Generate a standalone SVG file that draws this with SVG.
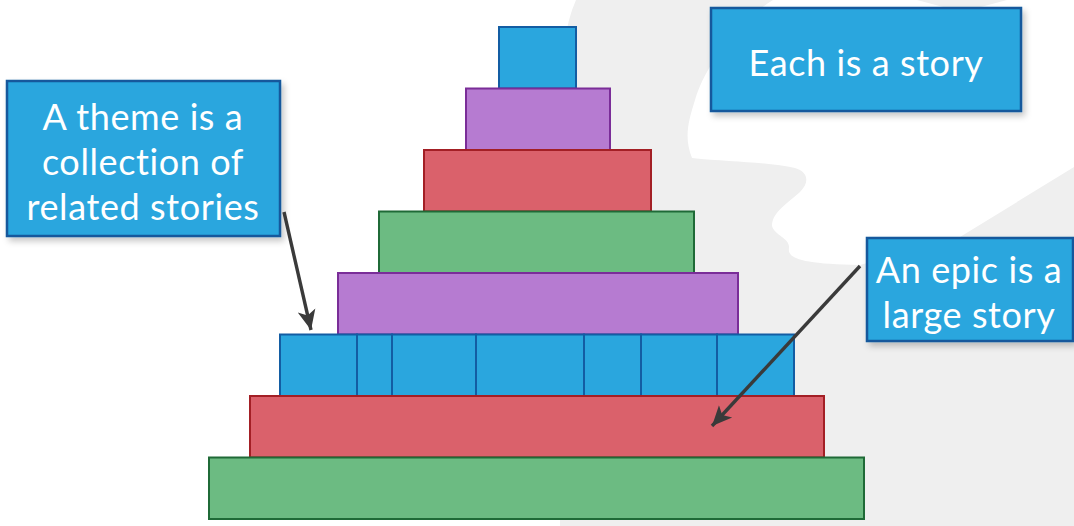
<svg xmlns="http://www.w3.org/2000/svg" width="1074" height="526" viewBox="0 0 1074 526">
  <defs>
    <style>
      .blue   { fill: #2aa6de; stroke: #135da3; stroke-width: 2; }
      .purple { fill: #b67bd1; stroke: #7a2d98; stroke-width: 2; }
      .red    { fill: #da616b; stroke: #a31f25; stroke-width: 2; }
      .green  { fill: #6cbb82; stroke: #1f6a37; stroke-width: 2; }
      .label  { fill: #2aa6de; stroke: #14589c; stroke-width: 2.5; filter: url(#shadow); }
      .txt    { font-family: Lato, "Open Sans", "Liberation Sans", sans-serif; font-size: 36px; letter-spacing: 0.6px; font-variant-ligatures: none; fill: #ffffff; text-anchor: middle; }
      .conn   { fill: none; stroke: #3a3a3a; stroke-width: 3.4; marker-end: url(#arrow); }
    </style>
    <filter id="shadow" x="-10%" y="-10%" width="130%" height="140%">
      <feDropShadow dx="3" dy="4" stdDeviation="3" flood-color="#000000" flood-opacity="0.22"/>
    </filter>
    <marker id="arrow" markerUnits="userSpaceOnUse" markerWidth="22" markerHeight="22" viewBox="0 0 22 22" refX="20" refY="11" orient="auto">
      <path d="M0,2 L20,11 L0,20 L5,11 Z" fill="#3a3a3a"/>
    </marker>
  </defs>

  <!-- backdrop: white page with a pale grey silhouette on the right -->
  <rect x="0" y="0" width="1074" height="526" fill="#ffffff"/>
  <path d="M576,0 Q558,40 560,130 L560,526 L1074,526 L1074,0 Z" fill="#efefef"/>
  <path d="M773,0 C740,20 705,65 695,100 C688,122 684,138 692,158 C730,162 770,162 795,168 C808,172 810,182 800,192 C788,203 772,212 772,226 C775,236 790,238 789,248 C787,258 800,264 860,265 L960,237 L1074,167 L1074,0 L1007,0 L962,12 L917,0 Z" fill="#ffffff"/>

  <!-- pyramid of stories -->
  <g id="tier-1"><rect class="blue" x="499" y="27" width="77" height="61.5"/></g>
  <g id="tier-2"><rect class="purple" x="466" y="88.5" width="144" height="61.5"/></g>
  <g id="tier-3"><rect class="red" x="424" y="150" width="227" height="61.5"/></g>
  <g id="tier-4"><rect class="green" x="379" y="211.5" width="315" height="61.5"/></g>
  <g id="tier-5"><rect class="purple" x="338" y="273" width="400" height="61.5"/></g>
  <g id="tier-6-theme">
    <rect class="blue" x="280" y="334.5" width="77" height="61.5"/>
    <rect class="blue" x="357" y="334.5" width="35" height="61.5"/>
    <rect class="blue" x="392" y="334.5" width="84" height="61.5"/>
    <rect class="blue" x="476" y="334.5" width="108" height="61.5"/>
    <rect class="blue" x="584" y="334.5" width="57" height="61.5"/>
    <rect class="blue" x="641" y="334.5" width="76" height="61.5"/>
    <rect class="blue" x="717" y="334.5" width="77" height="61.5"/>
  </g>
  <g id="tier-7-epic"><rect class="red" x="250" y="396" width="574" height="61.5"/></g>
  <g id="tier-8"><rect class="green" x="209" y="457.5" width="655" height="61.5"/></g>

  <!-- callouts -->
  <g id="story-note">
    <rect class="label" x="711" y="8" width="310" height="103"/>
    <text class="txt" x="866" y="76">Each is a story</text>
  </g>
  <g id="theme-note">
    <rect class="label" x="7" y="81" width="273" height="155"/>
    <text class="txt" x="143" y="130">A theme is a</text>
    <text class="txt" x="143" y="175">collection of</text>
    <text class="txt" x="143" y="220">related stories</text>
  </g>
  <g id="epic-note">
    <rect class="label" x="867" y="238" width="206" height="103"/>
    <text class="txt" x="969" y="283">An epic is a</text>
    <text class="txt" x="969" y="328">large story</text>
  </g>

  <!-- connectors -->
  <g id="connectors">
    <path class="conn" d="M284,212 L311,330"/>
    <path class="conn" d="M860,266 L712,426"/>
  </g>
</svg>
